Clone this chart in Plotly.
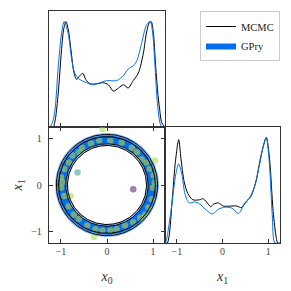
import numpy as np
import plotly.graph_objects as go

# ---------------- data ----------------
# 1D marginal of x0
x0_mcmc_x = [-1.26, -1.17, -1.12, -1.06, -0.99, -0.94, -0.89, -0.84, -0.78, -0.72, -0.66, -0.60, -0.53, -0.46,
             -0.37, -0.22, -0.08, 0.03, 0.14, 0.25, 0.36, 0.46, 0.57, 0.68, 0.79, 0.86, 0.92, 0.96, 1.01,
             1.05, 1.10, 1.14, 1.19, 1.26]
x0_mcmc_y = [0.0, 0.0, 0.08, 0.32, 0.72, 0.93, 1.0, 0.92, 0.72, 0.52, 0.45, 0.48, 0.51, 0.45,
             0.41, 0.41, 0.42, 0.40, 0.34, 0.37, 0.40, 0.37, 0.44, 0.51, 0.70, 0.90, 0.99, 1.0, 0.88,
             0.62, 0.34, 0.18, 0.04, 0.0]
x0_gpry_x = [-1.26, -1.24, -1.18, -1.13, -1.06, -0.99, -0.93, -0.84, -0.77, -0.70, -0.59, -0.44, -0.30,
             -0.15, -0.01, 0.21, 0.36, 0.46, 0.57, 0.65, 0.75, 0.86, 0.94, 0.99, 1.04, 1.09, 1.15, 1.19, 1.26]
x0_gpry_y = [0.0, 0.0, 0.05, 0.16, 0.57, 0.88, 1.0, 0.88, 0.65, 0.51, 0.45, 0.42, 0.40,
             0.42, 0.44, 0.44, 0.49, 0.55, 0.58, 0.63, 0.79, 0.97, 1.0, 0.90, 0.60, 0.25, 0.04, 0.0, 0.0]

# 1D marginal of x1
x1_mcmc_x = [-1.27, -1.21, -1.10, -1.04, -0.96, -0.91, -0.84, -0.76, -0.65, -0.50, -0.43, -0.35, -0.26,
             -0.19, -0.09, 0.02, 0.17, 0.32, 0.41, 0.51, 0.62, 0.73, 0.85, 0.96, 1.03, 1.11, 1.18, 1.21, 1.27]
x1_mcmc_y = [0.0, 0.0, 0.42, 0.74, 0.98, 0.80, 0.58, 0.47, 0.41, 0.41, 0.42, 0.39, 0.345,
             0.37, 0.38, 0.35, 0.35, 0.35, 0.335, 0.39, 0.44, 0.58, 0.84, 1.0, 0.80, 0.30, 0.045, 0.0, 0.0]
x1_gpry_x = [-1.27, -1.25, -1.14, -1.02, -0.96, -0.89, -0.82, -0.73, -0.61, -0.50, -0.35, -0.22, -0.09,
             0.06, 0.21, 0.35, 0.47, 0.58, 0.70, 0.81, 0.89, 0.96, 1.03, 1.09, 1.15, 1.27]
x1_gpry_y = [0.0, 0.0, 0.27, 0.66, 0.75, 0.65, 0.46, 0.38, 0.39, 0.37, 0.31, 0.275, 0.32,
             0.34, 0.33, 0.28, 0.36, 0.42, 0.53, 0.74, 0.91, 1.0, 0.74, 0.27, 0.0, 0.0]

# 2D contour radii (inner, outer) of the ring
gpry_r95 = [0.855, 1.13]
gpry_r68 = [0.90, 1.08]
mcmc_r95 = [0.858, 1.10]
mcmc_r68 = [0.895, 1.05]

# GPry training points
pts_x = [-0.10, -0.17, -0.35, -0.54, -0.61, -0.75, -0.83, -0.93, -1.00, -0.97,
         0.07, 0.32, 0.54, 0.65, 0.75, 0.86, 0.93, 1.04, 1.01, 1.04,
         -1.00, -0.93, -0.79, -0.83, -0.72, -0.61, -0.43, -0.25, -0.10, -0.28,
         1.00, 0.97, 0.90, 0.83, 0.72, 0.57, 0.39, 0.21, 0.07, -0.64, 0.57]
pts_y = [1.21, 0.97, 0.90, 0.81, 0.71, 0.64, 0.49, 0.35, 0.17, 0.06,
         0.96, 0.92, 0.81, 0.71, 0.56, 0.49, 0.35, 0.53, 0.21, 0.06,
         -0.06, -0.24, -0.24, -0.46, -0.64, -0.74, -0.88, -0.96, -0.99, -1.13,
         -0.06, -0.31, -0.49, -0.64, -0.71, -0.81, -0.88, -0.96, -0.99, 0.27, -0.09]
pts_val = [0.85, 0.95, 0.95, 0.95, 0.95, 0.95, 0.95, 0.95, 0.95, 0.95,
           0.95, 0.95, 0.95, 0.95, 0.95, 0.95, 0.95, 0.85, 0.95, 0.95,
           0.95, 0.95, 0.85, 0.95, 0.95, 0.95, 0.95, 0.95, 0.95, 0.85,
           0.95, 0.95, 0.95, 0.95, 0.95, 0.95, 0.95, 0.95, 0.95, 0.50, 0.0]

tick_vals = [-1, 0, 1]
tick_text = ["\u22121", "0", "1"]

# ---------------- style ----------------
BLUE = "#006FED"
LIGHT = "#8EBDFA"
AX = "#333333"
FONT = "Liberation Serif"
W = H = 291

fig = go.Figure()

# 1D x0 (top-left)
fig.add_trace(go.Scatter(x=x0_mcmc_x, y=x0_mcmc_y, mode="lines", line=dict(color="black", width=1, shape="spline", smoothing=0.8),
                         name="MCMC", legendrank=1, xaxis="x", yaxis="y"))
fig.add_trace(go.Scatter(x=x0_gpry_x, y=x0_gpry_y, mode="lines", line=dict(color=BLUE, width=1, shape="spline", smoothing=0.8),
                         showlegend=False, xaxis="x", yaxis="y"))

# 1D x1 (bottom-right)
fig.add_trace(go.Scatter(x=x1_mcmc_x, y=x1_mcmc_y, mode="lines", line=dict(color="black", width=1, shape="spline", smoothing=0.8),
                         showlegend=False, xaxis="x3", yaxis="y3"))
fig.add_trace(go.Scatter(x=x1_gpry_x, y=x1_gpry_y, mode="lines", line=dict(color=BLUE, width=1, shape="spline", smoothing=0.8),
                         showlegend=False, xaxis="x3", yaxis="y3"))

# 2D filled contours (GPry)
th = np.linspace(0, 2 * np.pi, 241)
def circ(r):
    return (r * np.cos(th)).tolist(), (r * np.sin(th)).tolist()

layers = [(gpry_r95[1], LIGHT, False), (gpry_r68[1], BLUE, True), (gpry_r68[0], LIGHT, False), (gpry_r95[0], "white", False)]
for r, col, leg in layers:
    cx, cy = circ(r)
    fig.add_trace(go.Scatter(x=cx, y=cy, mode="lines", fill="toself", fillcolor=col, line=dict(width=0, color=col),
                             name="GPry", showlegend=leg, legendrank=2, xaxis="x2", yaxis="y2", hoverinfo="skip"))

# training points
fig.add_trace(go.Scatter(x=pts_x, y=pts_y, mode="markers",
                         marker=dict(size=6.5, color=pts_val, colorscale="Viridis", cmin=0, cmax=1, opacity=0.5, line=dict(width=0)),
                         showlegend=False, xaxis="x2", yaxis="y2"))

# MCMC contour lines
for r in mcmc_r95 + mcmc_r68:
    cx, cy = circ(r)
    fig.add_trace(go.Scatter(x=cx, y=cy, mode="lines", line=dict(color="black", width=1),
                             showlegend=False, xaxis="x2", yaxis="y2", hoverinfo="skip"))

# ---------------- layout ----------------
L, M, R = 49, 165, 280
T, MID, B = 11, 127, 243
xd1 = [L / W, M / W]
xd2 = [M / W, R / W]
yd_top = [1 - MID / H, 1 - T / H]
yd_bot = [1 - B / H, 1 - MID / H]
RANGE = [-1.26, 1.26]

base = dict(showline=True, linecolor=AX, linewidth=1.3, showgrid=False, zeroline=False,
            ticks="inside", ticklen=4, tickwidth=1, tickcolor=AX,
            tickvals=tick_vals, ticktext=tick_text,
            tickfont=dict(family=FONT, size=10, color="#444"), automargin=False)

title_font = dict(family=FONT, size=14, color="#333")

fig.update_layout(
    width=W, height=H, margin=dict(l=0, r=0, t=0, b=0),
    paper_bgcolor="white", plot_bgcolor="white",
    xaxis=dict(base, domain=xd1, range=RANGE, anchor="y", showticklabels=False, mirror=True),
    yaxis=dict(base, domain=yd_top, range=[0, 1.1], anchor="x", ticks="", showticklabels=False, mirror=True),
    xaxis2=dict(base, domain=xd1, range=RANGE, anchor="y2", mirror="ticks", ticklabelstandoff=-1,
                title=dict(text="<i>x</i><sub>0</sub>", font=title_font, standoff=15)),
    yaxis2=dict(base, domain=yd_bot, range=RANGE, anchor="x2", mirror="ticks", ticklabelstandoff=4,
                title=dict(text="<i>x</i><sub>1</sub>", font=title_font, standoff=5)),
    xaxis3=dict(base, domain=xd2, range=RANGE, anchor="y3", mirror=True, ticklabelstandoff=-1,
                title=dict(text="<i>x</i><sub>1</sub>", font=title_font, standoff=15)),
    yaxis3=dict(base, domain=yd_bot, range=[0, 1.1], anchor="x3", ticks="", showticklabels=False, mirror=True),
    legend=dict(x=R / W, y=1 - T / H, xanchor="right", yanchor="top",
                bordercolor="#cccccc", borderwidth=1, bgcolor="white",
                font=dict(family=FONT, size=10.5, color="#222"), itemwidth=30,
                tracegroupgap=0),
    showlegend=True,
)

fig.write_html("out.html", config={"displayModeBar": False},
               post_script="document.body.style.margin='0';")
